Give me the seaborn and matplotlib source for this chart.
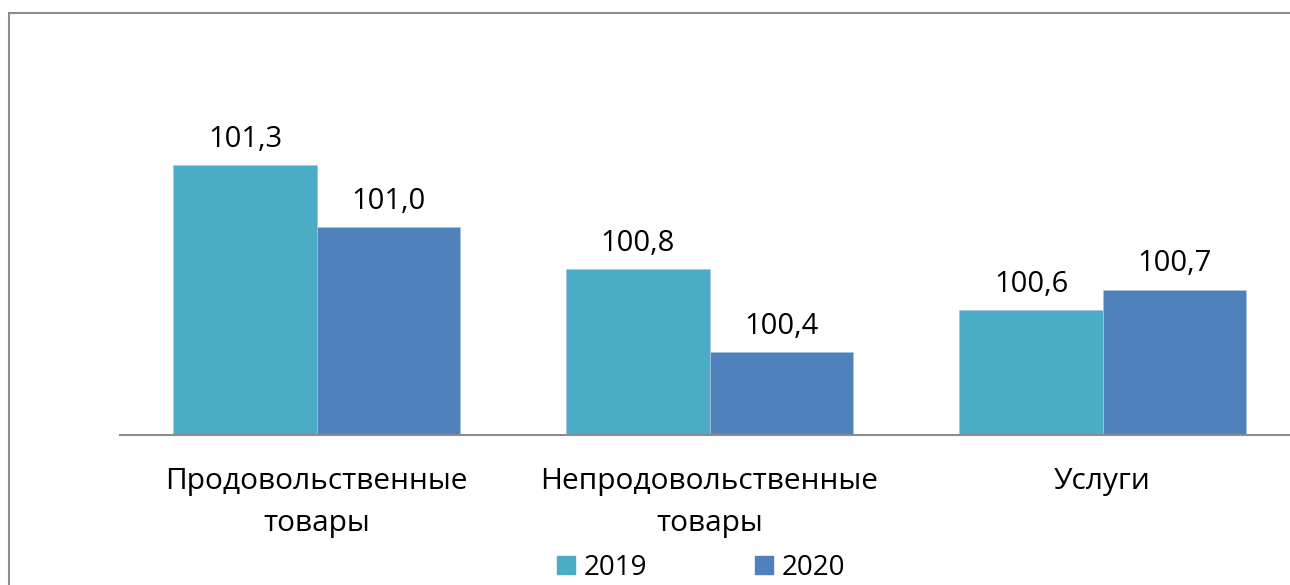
import matplotlib
matplotlib.use("Agg")
import matplotlib.pyplot as plt
import matplotlib.patches as mpatches
import seaborn as sns
import pandas as pd

categories = ["Продовольственные\nтовары", "Непродовольственные\nтовары", "Услуги"]
years = ["2019", "2020"]
values_2019 = [101.3, 100.8, 100.6]
values_2020 = [101.0, 100.4, 100.7]
colors = ["#4BACC6", "#4F81BD"]

df = pd.DataFrame({
    "cat": categories * 2,
    "year": [years[0]] * 3 + [years[1]] * 3,
    "val": values_2019 + values_2020,
})

sns.set_style("white")
plt.rcParams["font.family"] = ["Open Sans", "DejaVu Sans"]
plt.rcParams["text.color"] = "black"
plt.rcParams["xtick.color"] = "black"

fig = plt.figure(figsize=(12.9, 5.85), dpi=100)
ax = fig.add_axes([120 / 1290, 150 / 585, 1179 / 1290, 374 / 585])

sns.barplot(data=df, x="cat", y="val", hue="year", palette=colors,
            saturation=1, width=0.728, ax=ax, legend=False,
            edgecolor="#a8c4e0", linewidth=0.5)

ax.set_ylim(100, 101.8)
ax.set_xlim(-0.5, 2.5)
ax.set_yticks([])
ax.set_xlabel("")
ax.set_ylabel("")
for s in ["top", "right", "left"]:
    ax.spines[s].set_visible(False)
ax.spines["bottom"].set_color("#8c8c8c")
ax.spines["bottom"].set_linewidth(1.5)
ax.spines["bottom"].set_clip_on(False)
ax.tick_params(axis="x", length=0, pad=23, labelsize=21.5)
for t in ax.get_xticklabels():
    t.set_linespacing(1.6)

for cont in ax.containers:
    labels = [f"{b.get_height():.1f}".replace(".", ",") for b in cont]
    ax.bar_label(cont, labels=labels, padding=8, fontsize=21)

# chart border
fig.patches.append(mpatches.Rectangle((9 / 1290, -0.1), 1.2, 0.1 + 572 / 585,
                                      transform=fig.transFigure, fill=False,
                                      edgecolor="#8c8c8c", linewidth=1.5))

handles = [mpatches.Patch(color=c) for c in colors]
fig.legend(handles, years, loc="center", bbox_to_anchor=(701 / 1290, 17 / 585),
           ncol=2, frameon=False, fontsize=20, handlelength=0.65, handleheight=0.6,
           handletextpad=0.3, columnspacing=3.9, borderpad=0)

fig.savefig("out.png", dpi=100)
